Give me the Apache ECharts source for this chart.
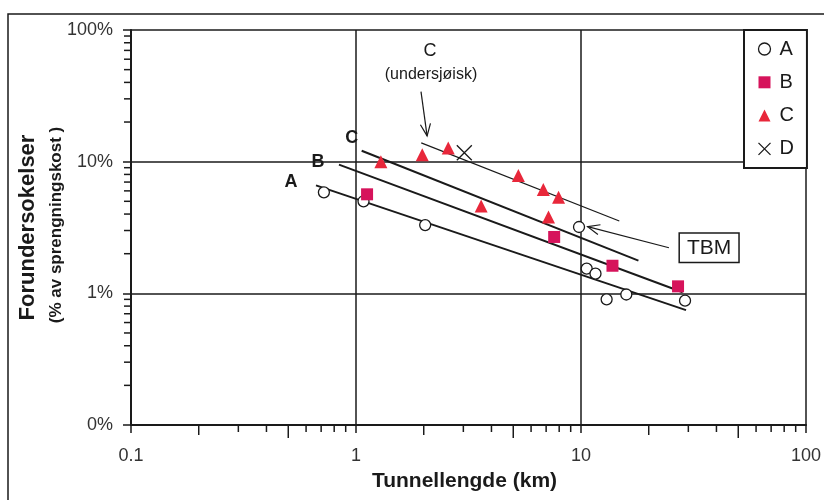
<!DOCTYPE html>
<html>
<head>
<meta charset="utf-8">
<title>Forundersøkelser</title>
<script src="https://cdn.jsdelivr.net/npm/echarts@6/dist/echarts.min.js"></script>
<style>
  html, body { margin: 0; padding: 0; background: #fff; }
  #chart { width: 824px; height: 500px; }
</style>
</head>
<body>
<div id="chart"></div>
<script>
  // målinger lest av figuren: [tunnellengde (km), forundersøkelser (%)]
  var pointsA = [[0.72, 5.85], [1.08, 5.0], [2.03, 3.3], [9.8, 3.19], [10.6, 1.54], [11.6, 1.41], [13.0, 0.90], [15.9, 0.98], [29, 0.88]];
  var pointsB = [[1.12, 5.65], [7.6, 2.68], [13.8, 1.62], [27, 1.13]];
  var pointsC = [[1.29, 10.0], [1.97, 11.3], [2.57, 12.7], [3.6, 4.6], [5.27, 7.85], [6.8, 6.15], [7.95, 5.37], [7.17, 3.8]];
  var pointsD = [[3.03, 11.7]];

  // trendlinjer (start, slutt)
  var trendA = [[0.664, 6.6], [29.3, 0.745]];
  var trendB = [[0.84, 9.5], [28.3, 1.02]];
  var trendC = [[1.06, 12.1], [18.0, 1.77]];
  var trendCsjo = [[1.95, 13.9], [14.8, 3.54]];
  var trendNames = ['A', 'B', 'C'];

  // piler: [x fra, y fra, x til, y til]
  var arrows = [[1.945, 34, 2.07, 15.7], [24.6, 2.22, 10.7, 3.21]];

  var yTickLabels = ['0%', '1%', '10%', '100%'];
  var minorTicks = [0.2, 0.3, 0.4, 0.5, 0.6, 0.7, 0.8, 0.9, 2, 3, 4, 5, 6, 7, 8, 9, 20, 30, 40, 50, 60, 70, 80, 90];

  var font = "'Liberation Sans', Arial, sans-serif";
  var ink = '#1a1a1a';

  function xMinor(params, api) {
    var v = api.value(0);
    var p = api.coord([v, 0.1]);
    var m = Math.round(v / Math.pow(10, Math.floor(Math.log10(v) + 1e-9)));
    var len = m === 5 ? 13 : (m === 2 ? 10 : 7);
    return {type: 'line', shape: {x1: p[0], y1: p[1], x2: p[0], y2: p[1] + len}, style: {stroke: ink, lineWidth: 1.5}};
  }

  function yMinor(params, api) {
    var p = api.coord([0.1, api.value(0)]);
    return {type: 'line', shape: {x1: p[0], y1: p[1], x2: p[0] - 7, y2: p[1]}, style: {stroke: ink, lineWidth: 1.5}};
  }

  function trendLabel(params, api) {
    var p = api.coord([api.value(0), api.value(1)]);
    var off = [[-25, -3], [-21, -3], [-10, -13]][params.dataIndex];
    return {
      type: 'text',
      style: {text: trendNames[params.dataIndex], x: p[0] + off[0], y: p[1] + off[1], align: 'center', verticalAlign: 'middle',
        font: 'bold 18px ' + font, fill: ink}
    };
  }

  function arrow(params, api) {
    var a = api.coord([api.value(0), api.value(1)]);
    var b = api.coord([api.value(2), api.value(3)]);
    var ang = Math.atan2(b[1] - a[1], b[0] - a[0]);
    var L = 13, w = 0.4;
    var h1 = [b[0] - L * Math.cos(ang - w), b[1] - L * Math.sin(ang - w)];
    var h2 = [b[0] - L * Math.cos(ang + w), b[1] - L * Math.sin(ang + w)];
    var kids = [
      {type: 'line', shape: {x1: a[0], y1: a[1], x2: b[0], y2: b[1]}, style: {stroke: ink, lineWidth: 1.2}},
      {type: 'polyline', shape: {points: [h1, b, h2]}, style: {stroke: ink, fill: null, lineWidth: 1.2}}
    ];
    if (params.dataIndex === 0) {
      kids.push({type: 'text', style: {text: 'C', x: a[0] + 9, y: a[1] - 41, align: 'center', verticalAlign: 'middle', font: '18px ' + font, fill: ink}});
      kids.push({type: 'text', style: {text: '(undersjøisk)', x: a[0] + 10, y: a[1] - 17, align: 'center', verticalAlign: 'middle', font: '16px ' + font, fill: ink}});
    } else {
      kids.push({type: 'text', style: {text: 'TBM', x: a[0] + 11, y: a[1], align: 'left', verticalAlign: 'middle', font: '21px ' + font, fill: ink,
        padding: [4, 7, 3, 7], borderColor: ink, borderWidth: 1.5, backgroundColor: '#fff'}});
    }
    return {type: 'group', children: kids};
  }

  function trendSeries(name, data, width) {
    return {name: name, type: 'line', data: data, symbol: 'none', silent: true, z: 3,
      lineStyle: {color: ink, width: width}};
  }

  var chart = echarts.init(document.getElementById('chart'));
  chart.setOption({
    animation: false,
    backgroundColor: '#fff',
    grid: {left: 131, right: 17, top: 30, bottom: 75},
    legend: {
      left: 744, top: 30, orient: 'vertical',
      data: [
        {name: 'A', icon: 'circle', itemStyle: {color: '#fff', borderColor: ink, borderWidth: 1.3}},
        {name: 'B', icon: 'rect'},
        {name: 'C', icon: 'triangle'},
        {name: 'D', icon: 'path://M0,0L10,10M0,10L10,0', itemStyle: {color: 'none', borderColor: ink, borderWidth: 1.3}}
      ],
      itemWidth: 12, itemHeight: 12, itemGap: 13.3,
      padding: [9, 13, 9, 12],
      borderColor: ink, borderWidth: 2, backgroundColor: '#fff',
      textStyle: {fontSize: 20, fontFamily: font, color: ink, lineHeight: 18, padding: [0, 0, 0, 4]}
    },
    xAxis: {
      type: 'log', logBase: 10, min: 0.1, max: 100,
      name: 'Tunnellengde (km)', nameLocation: 'middle', nameGap: 46,
      nameTextStyle: {fontSize: 21, fontWeight: 'bold', fontFamily: font, color: ink, padding: [0, 8, 0, 0]},
      axisLine: {lineStyle: {color: ink, width: 2}},
      axisTick: {length: 8, lineStyle: {color: ink, width: 1.5}},
      axisLabel: {fontSize: 18, fontFamily: font, color: '#333', margin: 22,
        formatter: function (v) { return String(+v.toPrecision(3)); }},
      splitLine: {show: true, lineStyle: {color: ink, width: 1.5}}
    },
    yAxis: {
      type: 'log', logBase: 10, min: 0.1, max: 100,
      name: 'Forundersokelser', nameLocation: 'middle', nameGap: 92,
      nameTextStyle: {fontSize: 22, fontWeight: 'bold', fontFamily: font, color: ink},
      axisLine: {lineStyle: {color: ink, width: 2}},
      axisTick: {length: 8, lineStyle: {color: ink, width: 1.5}},
      axisLabel: {fontSize: 18, fontFamily: font, color: '#333', margin: 18,
        formatter: function (v) { return yTickLabels[Math.round(Math.log10(v)) + 1]; }},
      splitLine: {show: true, lineStyle: {color: ink, width: 1.5}}
    },
    graphic: [
      {type: 'rect', x: 8, y: 14, shape: {width: 840, height: 520}, silent: true, z: -10,
        style: {fill: null, stroke: ink, lineWidth: 1.5}},
      {type: 'text', x: 56, y: 225, rotation: Math.PI / 2, silent: true,
        style: {text: '(% av sprengningskost )', align: 'center', verticalAlign: 'middle', font: 'bold 17px ' + font, fill: ink}}
    ],
    series: [
      trendSeries('trendA', trendA, 2),
      trendSeries('trendB', trendB, 2),
      trendSeries('trendC', trendC, 2),
      trendSeries('trendCsjo', trendCsjo, 1.2),
      {name: 'A', type: 'scatter', data: pointsA, symbol: 'circle', symbolSize: 11, z: 5,
        itemStyle: {color: '#fff', borderColor: ink, borderWidth: 1.3, opacity: 1}},
      {name: 'B', type: 'scatter', data: pointsB, symbol: 'rect', symbolSize: 12, z: 5,
        itemStyle: {color: '#d6135b', opacity: 1}},
      {name: 'C', type: 'scatter', data: pointsC, symbol: 'triangle', symbolSize: 13, z: 5,
        itemStyle: {color: '#e8273a', opacity: 1}},
      {name: 'D', type: 'scatter', data: pointsD, symbol: 'path://M0,0L10,10M0,10L10,0', symbolSize: 15, z: 5,
        itemStyle: {color: 'none', borderColor: ink, borderWidth: 1.3, opacity: 1}},
      {name: 'xMinor', type: 'custom', data: minorTicks.map(function (v) { return [v]; }), renderItem: xMinor,
        encode: {x: 0}, silent: true, clip: false, z: 4},
      {name: 'yMinor', type: 'custom', data: minorTicks.map(function (v) { return [v]; }), renderItem: yMinor,
        encode: {y: 0}, silent: true, clip: false, z: 4},
      {name: 'trendLabels', type: 'custom', data: [trendA[0], trendB[0], trendC[0]], renderItem: trendLabel,
        encode: {x: 0, y: 1}, silent: true, clip: false, z: 6},
      {name: 'arrows', type: 'custom', data: arrows, renderItem: arrow, dimensions: ['x1', 'y1', 'x2', 'y2'],
        encode: {x: [0, 2], y: [1, 3]}, silent: true, clip: false, z: 6}
    ]
  });
</script>
</body>
</html>
